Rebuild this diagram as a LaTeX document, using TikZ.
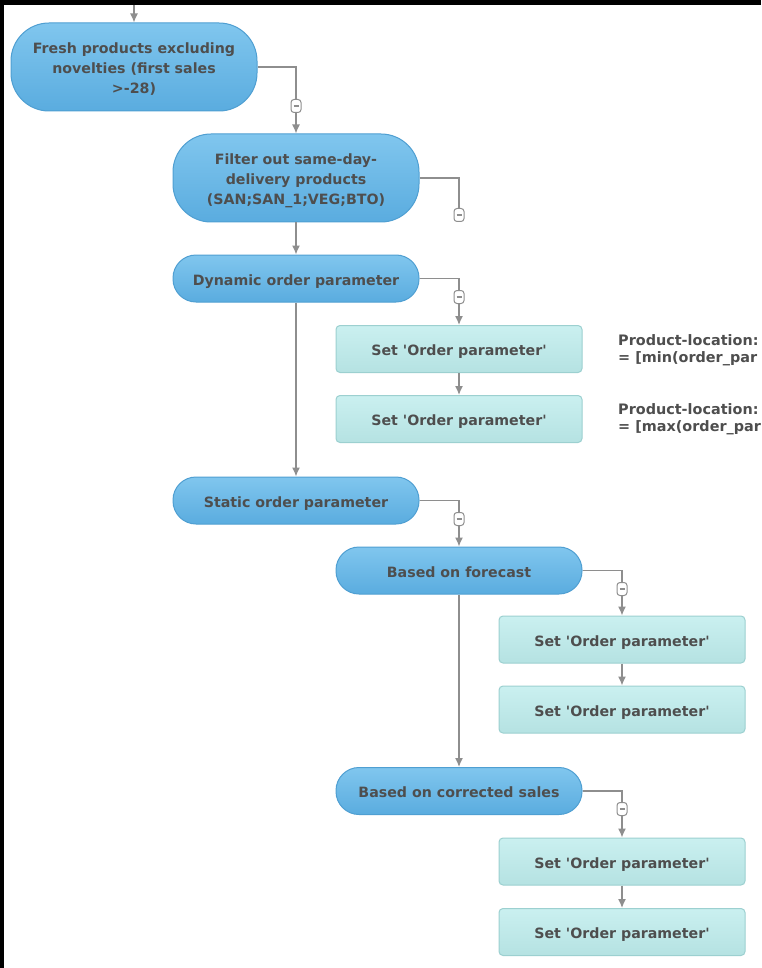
\documentclass[tikz,border=0pt]{standalone}
\usepackage{fontspec}
\newfontfamily\lbl{DejaVu Sans}
\usetikzlibrary{arrows.meta}
\definecolor{pilltop}{HTML}{80C6EE}
\definecolor{pillbot}{HTML}{5AACDF}
\definecolor{pillline}{HTML}{4F9FD2}
\definecolor{settop}{HTML}{CAF0F0}
\definecolor{setbot}{HTML}{B5E2E2}
\definecolor{setline}{HTML}{9CD0D0}
\definecolor{txt}{HTML}{4E4E4E}
\definecolor{wirec}{HTML}{8E8E8E}

\begin{document}
\begin{tikzpicture}[x=1pt,y=-1pt,
    pill/.style={draw=pillline,line width=1pt,top color=pilltop,bottom color=pillbot,
        rounded corners=23pt,minimum width=246pt,minimum height=47pt,inner sep=0pt,
        text height=17pt,text depth=3.5pt,
        align=center,text=txt,font=\lbl\bfseries\fontsize{14.2}{20}\selectfont},
    tallpill/.style={pill,minimum height=88pt,rounded corners=38pt,text height=57pt},
    setbox/.style={draw=setline,line width=1pt,top color=settop,bottom color=setbot,
        rounded corners=4pt,minimum width=246pt,minimum height=47pt,inner sep=0pt,
        text height=17pt,text depth=3.5pt,
        text=txt,font=\lbl\bfseries\fontsize{14.2}{20}\selectfont},
    fold/.style={draw=wirec,fill=white,line width=1pt,rounded corners=3pt,
        minimum width=10pt,minimum height=13pt,inner sep=0pt,
        path picture={\draw[wirec,line width=1.3pt]
            ([xshift=-2.5pt]path picture bounding box.center) --
            ([xshift=2.5pt]path picture bounding box.center);}},
    note/.style={anchor=west,align=left,inner sep=0pt,text=txt,
        font=\lbl\bfseries\fontsize{14.4}{17}\selectfont},
    wire/.style={draw=wirec,line width=1.4pt},
    flow/.style={wire,-{Latex[length=9pt,width=8pt]}}]
    \useasboundingbox (0,0) rectangle (761,968);
    \fill[black] (0,0) rectangle (761,968);
    \fill[white] (4,5) rectangle (761,968);
    \coordinate (entry) at (134,5);
    \node[tallpill] (fresh) at (134,67) {Fresh products excluding\\novelties (first sales\\>-28)};
    \node[tallpill] (filter) at (296,178) {Filter out same-day-\\delivery products\\(SAN;SAN\_1;VEG;BTO)};
    \node[pill] (dynamic) at (296,278.5) {Dynamic order parameter};
    \node[setbox] (setA) at (459,349) {Set 'Order parameter'};
    \node[setbox] (setB) at (459,419) {Set 'Order parameter'};
    \node[pill] (static) at (296,500.5) {Static order parameter};
    \node[pill] (forecast) at (459,570.5) {Based on forecast};
    \node[setbox] (setC) at (622,639.5) {Set 'Order parameter'};
    \node[setbox] (setD) at (622,709.5) {Set 'Order parameter'};
    \node[pill] (corrected) at (459,791) {Based on corrected sales};
    \node[setbox] (setE) at (622,861.5) {Set 'Order parameter'};
    \node[setbox] (setF) at (622,932) {Set 'Order parameter'};
    \node[fold] (m1) at (296,106) {};
    \node[fold] (m2) at (459,215) {};
    \node[fold] (m3) at (459,297) {};
    \node[fold] (m4) at (459,519) {};
    \node[fold] (m5) at (622,589) {};
    \node[fold] (m6) at (622,809) {};
    \begin{scope}
        \clip (0,0) rectangle (761,968);
        \node[note] (noteA) at (618,350) {Product-location:\\= [min(order\_par};
        \node[note] (noteB) at (618,419) {Product-location:\\= [max(order\_par};
    \end{scope}
    \draw[flow] (entry) -- (fresh);
    \draw[wire] (fresh.east) -| (m1.north);
    \draw[flow] (m1) -- (filter);
    \draw[wire] (filter.east) -| (m2.north);
    \draw[flow] (filter) -- (dynamic);
    \draw[wire] (dynamic.east) -| (m3.north);
    \draw[flow] (m3) -- (setA);
    \draw[flow] (setA) -- (setB);
    \draw[flow] (dynamic) -- (static);
    \draw[wire] (static.east) -| (m4.north);
    \draw[flow] (m4) -- (forecast);
    \draw[wire] (forecast.east) -| (m5.north);
    \draw[flow] (m5) -- (setC);
    \draw[flow] (setC) -- (setD);
    \draw[flow] (forecast) -- (corrected);
    \draw[wire] (corrected.east) -| (m6.north);
    \draw[flow] (m6) -- (setE);
    \draw[flow] (setE) -- (setF);
\end{tikzpicture}
\end{document}
